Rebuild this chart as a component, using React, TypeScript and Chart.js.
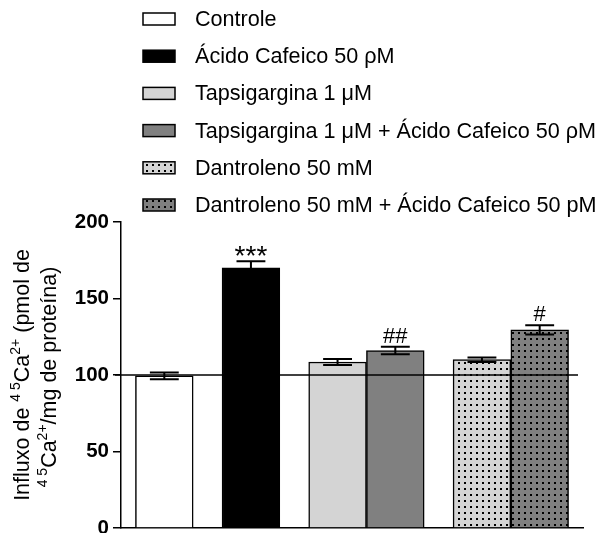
import React, { useEffect, useRef } from 'react';
import { Chart, registerables } from 'chart.js';

Chart.register(...registerables);

// ---- data ----
const categories = [
  'Controle',
  'Ácido Cafeico 50 ρM',
  'Tapsigargina 1 μM',
  'Tapsigargina 1 μM + Ácido Cafeico 50 ρM',
  'Dantroleno 50 mM',
  'Dantroleno 50 mM + Ácido Cafeico 50 pM',
];
const means = [99.5, 170, 108.5, 116, 110, 129.5];
const sems = [2.2, 4.3, 2.0, 2.4, 1.5, 3.0];
const groups = [0, 1, 2, 2, 3, 3];
const marks = ['', '***', '', '##', '', '#'];
const yTicks = [0, 50, 100, 150, 200];
const baselineValue = 100;
// y-axis title: [text, isSuperscript]
const yTitleLine1: [string, boolean][] = [
  ['Influxo de ', false],
  ['4 5', true],
  ['Ca', false],
  ['2+', true],
  [' (pmol de', false],
];
const yTitleLine2: [string, boolean][] = [
  ['4 5', true],
  ['Ca', false],
  ['2+', true],
  ['/mg de proteína)', false],
];

// ---- styles ----
const fillColors = ['#ffffff', '#000000', '#d4d4d4', '#808080', '#d4d4d4', '#808080'];
const dotted = [false, false, false, false, true, true];
const FONT = '"Liberation Sans", Arial, sans-serif';

function makePattern(bg: string): CanvasPattern | string {
  const c = document.createElement('canvas');
  c.width = 6;
  c.height = 6;
  const g = c.getContext('2d');
  if (!g) return bg;
  g.fillStyle = bg;
  g.fillRect(0, 0, 6, 6);
  g.fillStyle = '#000';
  g.fillRect(2, 2, 2, 2);
  const p = g.createPattern(c, 'repeat');
  return p || bg;
}

function layoutX() {
  const edge = 0.25;
  const gap = 0.5;
  const xs: number[] = [];
  let cursor = edge;
  groups.forEach((g, i) => {
    if (i > 0 && g !== groups[i - 1]) cursor += gap;
    xs.push(cursor + 0.5);
    cursor += 1;
  });
  return { xs, max: cursor + edge };
}

function drawRichRotated(
  ctx: CanvasRenderingContext2D,
  segs: [string, boolean][],
  cx: number,
  cy: number,
) {
  const normal = `21.5px ${FONT}`;
  const sup = `14px ${FONT}`;
  let total = 0;
  const widths = segs.map(([t, s]) => {
    ctx.font = s ? sup : normal;
    const w = ctx.measureText(t).width;
    total += w;
    return w;
  });
  ctx.save();
  ctx.translate(cx, cy);
  ctx.rotate(-Math.PI / 2);
  ctx.textAlign = 'left';
  ctx.textBaseline = 'alphabetic';
  ctx.fillStyle = '#000';
  let x = -total / 2;
  segs.forEach(([t, s], i) => {
    ctx.font = s ? sup : normal;
    ctx.fillText(t, x, s ? 7.5 - 9 : 7.5);
    x += widths[i];
  });
  ctx.restore();
}

export default function App() {
  const ref = useRef<HTMLCanvasElement>(null);

  useEffect(() => {
    if (!ref.current) return;
    const { xs, max } = layoutX();
    const fills = fillColors.map((c, i) => (dotted[i] ? makePattern(c) : c));

    const overlay = {
      id: 'overlay',
      afterDatasetsDraw(chart: any) {
        const ctx = chart.ctx as CanvasRenderingContext2D;
        const ys = chart.scales.y;
        const area = chart.chartArea;
        const meta = chart.getDatasetMeta(0);
        ctx.save();
        // reference line at 100
        const yb = ys.getPixelForValue(baselineValue);
        ctx.strokeStyle = '#000';
        ctx.lineWidth = 1.5;
        ctx.beginPath();
        ctx.moveTo(area.left - 6, yb);
        ctx.lineTo(area.right - 5, yb);
        ctx.stroke();
        // error bars
        meta.data.forEach((el: any, i: number) => {
          const x = el.x;
          const half = el.width / 4;
          const yTop = ys.getPixelForValue(means[i] + sems[i]);
          const yBot = ys.getPixelForValue(means[i] - sems[i]);
          ctx.strokeStyle = '#000';
          ctx.lineWidth = 2;
          ctx.beginPath();
          ctx.moveTo(x, yTop);
          ctx.lineTo(x, yBot);
          ctx.moveTo(x - half, yTop);
          ctx.lineTo(x + half, yTop);
          ctx.moveTo(x - half, yBot);
          ctx.lineTo(x + half, yBot);
          ctx.stroke();
          if (marks[i]) {
            const star = marks[i].includes('*');
            ctx.fillStyle = '#000';
            ctx.textAlign = 'center';
            ctx.textBaseline = 'alphabetic';
            ctx.font = `${star ? 28 : 22}px ${FONT}`;
            ctx.fillText(marks[i], x, yTop + (star ? 4 : -4));
          }
        });
        ctx.restore();
      },
      afterDraw(chart: any) {
        const ctx = chart.ctx as CanvasRenderingContext2D;
        const area = chart.chartArea;
        ctx.save();
        categories.forEach((label, i) => {
          const y = 19 + i * 37.2;
          ctx.fillStyle = fills[i] as any;
          ctx.fillRect(143, y - 6, 32, 12);
          ctx.strokeStyle = '#000';
          ctx.lineWidth = 1.5;
          ctx.strokeRect(143, y - 6, 32, 12);
          ctx.fillStyle = '#000';
          ctx.font = `21.6px ${FONT}`;
          ctx.textAlign = 'left';
          ctx.textBaseline = 'middle';
          ctx.fillText(label, 195, y + 1);
        });
        ctx.restore();
        const cy = (area.top + area.bottom) / 2;
        drawRichRotated(ctx, yTitleLine1, 21, cy);
        drawRichRotated(ctx, yTitleLine2, 48, cy + 2);
      },
    };

    const chart = new Chart(ref.current, {
      type: 'bar',
      data: {
        labels: categories,
        datasets: [
          {
            data: xs.map((x, i) => ({ x, y: means[i] })) as any,
            backgroundColor: fills as any,
            borderColor: '#000',
            borderWidth: 1.5,
            barPercentage: 1,
            categoryPercentage: 1,
          },
        ],
      },
      options: {
        responsive: false,
        animation: false,
        devicePixelRatio: 1,
        layout: { padding: { top: 222, left: 0, right: 18, bottom: 5 } },
        plugins: { legend: { display: false }, tooltip: { enabled: false } },
        scales: {
          x: {
            type: 'linear',
            min: 0,
            max,
            offset: false,
            ticks: { display: false },
            grid: { display: false, offset: false },
            border: { display: true, color: '#000', width: 1.5 },
            afterFit: (s: any) => {
              s.height = 0;
            },
          },
          y: {
            min: 0,
            max: 200,
            afterBuildTicks: (s: any) => {
              s.ticks = yTicks.map((v) => ({ value: v }));
            },
            ticks: {
              color: '#000',
              padding: 4,
              font: { family: FONT, size: 20.5, weight: 'bold' },
            },
            grid: {
              display: true,
              drawOnChartArea: false,
              drawTicks: true,
              tickLength: 8,
              color: '#000',
              lineWidth: 1.5,
            },
            border: { display: true, color: '#000', width: 1.5 },
            title: { display: false },
            afterFit: (s: any) => {
              s.width = 121;
              s.paddingTop = 0;
              s.paddingBottom = 0;
            },
          },
        },
      } as any,
      plugins: [overlay],
    });
    return () => chart.destroy();
  }, []);

  return (
    <div style={{ position: 'absolute', left: 0, top: 0, width: 601, height: 533, background: '#fff' }}>
      <canvas ref={ref} width={601} height={533} style={{ display: 'block' }} />
    </div>
  );
}
